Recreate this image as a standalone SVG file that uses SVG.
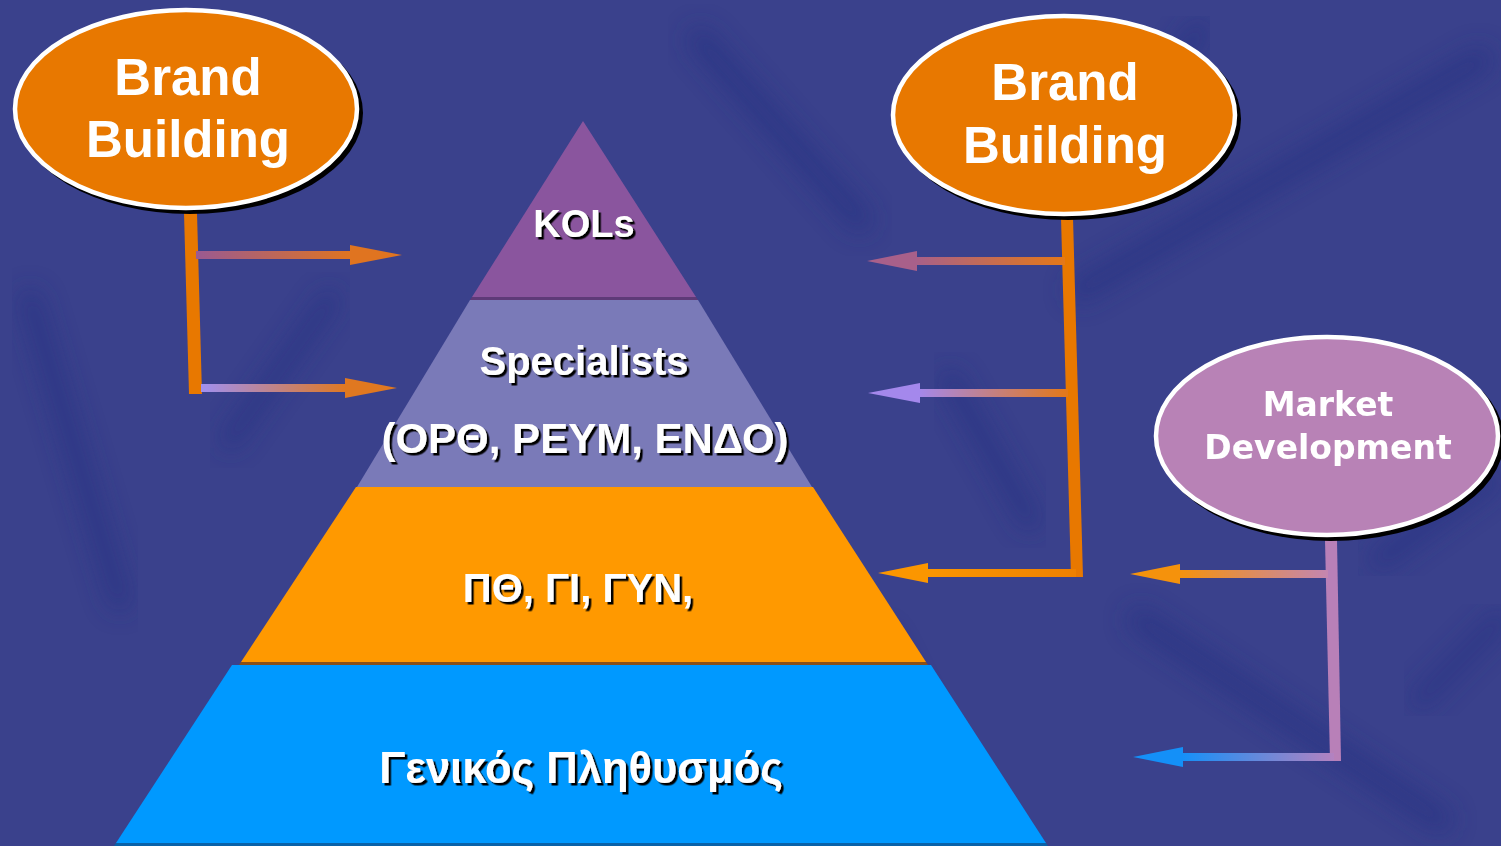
<svg xmlns="http://www.w3.org/2000/svg" width="1501" height="846" viewBox="0 0 1501 846">
<defs>
<style>
.t{font-family:"Liberation Sans",Arial,sans-serif;font-weight:bold;fill:#ffffff;text-anchor:middle}
.sh{filter:url(#ds)}
.md{font-family:"DejaVu Sans","Liberation Sans",sans-serif;font-weight:bold;fill:#ffffff;text-anchor:middle;font-size:33px}
.ell{stroke:#ffffff;stroke-width:4.5}
.streak{stroke:#283083;stroke-linecap:round;fill:none;filter:url(#blur)}
</style>
<filter id="ds" x="-10%" y="-20%" width="120%" height="150%">
<feDropShadow dx="2.5" dy="2.5" stdDeviation="0.4" flood-color="#000000" flood-opacity="1"/>
</filter>
<filter id="blur" x="-20%" y="-20%" width="140%" height="140%">
<feGaussianBlur stdDeviation="12"/>
</filter>
<linearGradient id="gL1" x1="0" y1="0" x2="1" y2="0"><stop offset="0" stop-color="#9a5a92"/><stop offset="1" stop-color="#e07420"/></linearGradient>
<linearGradient id="gL2" x1="0" y1="0" x2="1" y2="0"><stop offset="0" stop-color="#a090f0"/><stop offset="1" stop-color="#e07820"/></linearGradient>
<linearGradient id="gR1" x1="0" y1="0" x2="1" y2="0"><stop offset="0" stop-color="#a8608a"/><stop offset="1" stop-color="#e47818"/></linearGradient>
<linearGradient id="gR2" x1="0" y1="0" x2="1" y2="0"><stop offset="0" stop-color="#a488ec"/><stop offset="1" stop-color="#e47818"/></linearGradient>
<linearGradient id="gR3" x1="0" y1="0" x2="1" y2="0"><stop offset="0" stop-color="#fb9600"/><stop offset="1" stop-color="#ee8000"/></linearGradient>
<linearGradient id="gM1" x1="0" y1="0" x2="1" y2="0"><stop offset="0" stop-color="#f5920c"/><stop offset="1" stop-color="#c486b0"/></linearGradient>
<linearGradient id="gM2" x1="0" y1="0" x2="1" y2="0"><stop offset="0" stop-color="#1490f8"/><stop offset="1" stop-color="#b482c0"/></linearGradient>
</defs>

<rect x="0" y="0" width="1501" height="846" fill="#3a418c"/>
<g id="background" opacity="0.6">
<path class="streak" stroke-width="26" d="M700 40 L860 220"/>
<path class="streak" stroke-width="26" d="M1080 290 L1480 60"/>
<path class="streak" stroke-width="22" d="M1150 100 L1200 30"/>
<path class="streak" stroke-width="26" d="M1140 620 L1440 820"/>
<path class="streak" stroke-width="22" d="M880 640 L980 840"/>
<path class="streak" stroke-width="22" d="M30 300 L120 600"/>
<path class="streak" stroke-width="20" d="M230 440 L330 300"/>
<path class="streak" stroke-width="22" d="M950 380 L1030 520"/>
<path class="streak" stroke-width="22" d="M1380 560 L1490 480"/>
<path class="streak" stroke-width="20" d="M1420 700 L1500 620"/>
</g>

<g id="pyramid">
<g id="layer-kols">
<polygon points="583,121 696,297 472,297" fill="#8a559e"/>
<polygon points="472,297 696,297 698,300 470,300" fill="#5e3a78"/>
<text class="t sh" x="584" y="237" font-size="38">KOLs</text>
</g>
<g id="layer-specialists">
<polygon points="470,300 698,300 812,487 357,487" fill="#7a7ab8"/>
<text class="t sh" x="584" y="375" font-size="40">Specialists</text>
<text class="t sh" x="585" y="453" font-size="42">(ΟΡΘ, ΡΕΥΜ, ΕΝΔΟ)</text>
</g>
<g id="layer-gp">
<polygon points="356,487 813,487 926,662 241,662" fill="#ff9900"/>
<polygon points="241,662 926,662 928,665 239,665" fill="#8a5018"/>
<text class="t sh" x="578" y="602" font-size="40">ΠΘ, ΓΙ, ΓΥΝ,</text>
</g>
<g id="layer-general">
<polygon points="232,665 931,665 1046,843 116,843" fill="#0099ff"/>
<polygon points="116,843 1046,843 1048,846 114,846" fill="#0a62a8"/>
<text class="t sh" x="581" y="783" font-size="43.5">Γενικός Πληθυσμός</text>
</g>
</g>

<g id="connectors">
<polygon points="184,213 197,213 202,394 189,394" fill="#e87800"/>
<rect x="196" y="251" width="156" height="8" fill="url(#gL1)"/>
<polygon points="350,245 402,255 350,265" fill="#e07420"/>
<rect x="201" y="384" width="146" height="8" fill="url(#gL2)"/>
<polygon points="345,378 397,388 345,398" fill="#e07820"/>

<polygon points="1061,218 1073,218 1083,577 1071,577" fill="#e87800"/>
<rect x="915" y="257" width="150" height="8" fill="url(#gR1)"/>
<polygon points="917,251 867,261 917,271" fill="#a8608a"/>
<rect x="918" y="389" width="150" height="8" fill="url(#gR2)"/>
<polygon points="920,383 868,393 920,403" fill="#a488ec"/>
<rect x="926" y="569" width="150" height="8" fill="url(#gR3)"/>
<polygon points="928,563 878,573 928,583" fill="#fb9600"/>

<polygon points="1325,540 1337,540 1341,761 1330,761" fill="#b880b8"/>
<rect x="1178" y="570" width="150" height="8" fill="url(#gM1)"/>
<polygon points="1180,564 1130,574 1180,584" fill="#f5920c"/>
<rect x="1181" y="753" width="153" height="8" fill="url(#gM2)"/>
<polygon points="1183,747 1133,757 1183,767" fill="#1490f8"/>
</g>

<g id="brand-building-left">
<ellipse cx="190" cy="113" rx="173" ry="101" fill="#000000"/>
<ellipse class="ell" cx="186" cy="109" rx="171" ry="99" fill="#e87800"/>
<text class="t" x="188" y="95" font-size="51">Brand</text>
<text class="t" x="188" y="157" font-size="51">Building</text>
</g>

<g id="brand-building-right">
<ellipse cx="1068" cy="119" rx="173" ry="101" fill="#000000"/>
<ellipse class="ell" cx="1064" cy="115" rx="171" ry="99" fill="#e87800"/>
<text class="t" x="1065" y="100" font-size="51">Brand</text>
<text class="t" x="1065" y="163" font-size="51">Building</text>
</g>

<g id="market-development">
<ellipse cx="1331" cy="440" rx="173" ry="101" fill="#000000"/>
<ellipse class="ell" cx="1327" cy="436" rx="171" ry="99" fill="#b882b6"/>
<text class="md" x="1328" y="416">Market</text>
<text class="md" x="1328" y="459">Development</text>
</g>
</svg>
